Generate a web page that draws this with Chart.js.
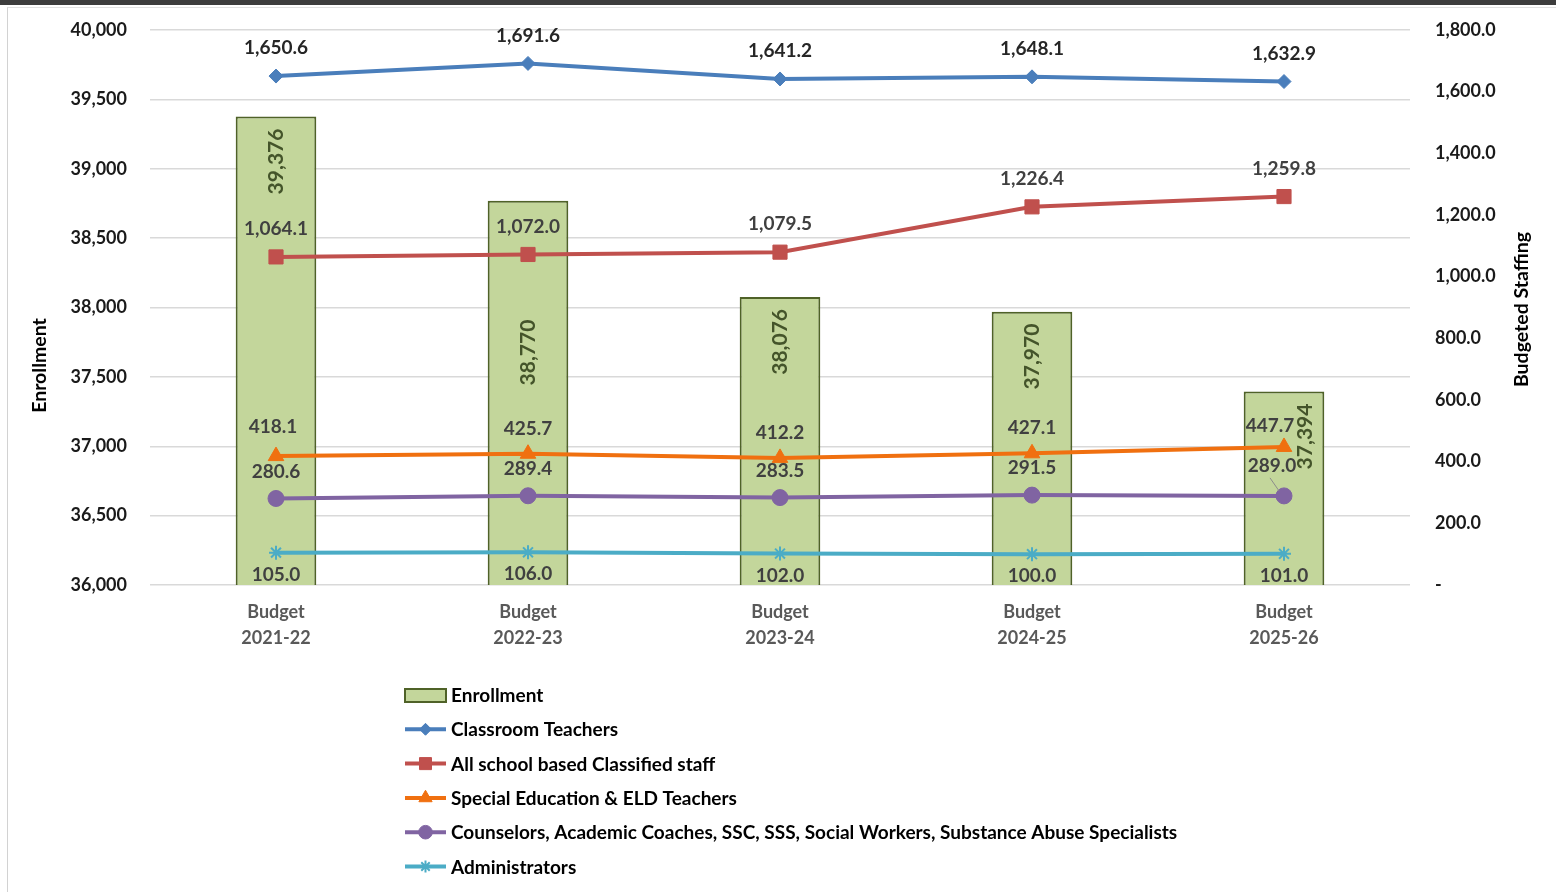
<!DOCTYPE html>
<html lang="en">
<head>
<meta charset="UTF-8">
<title>Enrollment and Budgeted Staffing</title>
<script src="https://cdn.jsdelivr.net/npm/chart.js"></script>
<style>
  html, body { margin: 0; padding: 0; background: #ffffff; }
  body { width: 1556px; height: 892px; overflow: hidden; position: relative; font-family: 'Lato', sans-serif; }
  /* dark strip on top and the light chart frame, like the screenshot */
  .topbar { position: absolute; left: 0; top: 0; width: 1556px; height: 5px; background: #3d3d3d; }
  .frame { position: absolute; left: 7px; top: 7px; width: 1600px; height: 950px; border-left: 1px solid #d2d2d2; border-top: 1px solid #e2e2e2; }
  .chart-box { position: absolute; left: 0; top: 0; width: 1556px; height: 892px; }
</style>
</head>
<body>
<div class="topbar"></div>
<div class="frame"></div>
<div class="chart-box"><canvas id="staffChart" width="1556" height="892"></canvas></div>

<script>
// --- data ---
const categories = [['Budget', '2021-22'], ['Budget', '2022-23'], ['Budget', '2023-24'], ['Budget', '2024-25'], ['Budget', '2025-26']];
const enrollment = [39376, 38770, 38076, 37970, 37394];
const classroomTeachers = [1650.6, 1691.6, 1641.2, 1648.1, 1632.9];
const classifiedStaff = [1064.1, 1072.0, 1079.5, 1226.4, 1259.8];
const spedEldTeachers = [418.1, 425.7, 412.2, 427.1, 447.7];
const counselors = [280.6, 289.4, 283.5, 291.5, 289.0];
const administrators = [105.0, 106.0, 102.0, 100.0, 101.0];

const enrollmentRange = [36000, 40000, 500];   // min, max, step (left axis)
const staffingRange = [0, 1800, 200];          // min, max, step (right axis)

const FONT = 'Lato, "Open Sans", sans-serif';
const fmtInt = v => v.toLocaleString('en-US');
const fmt1 = v => v.toLocaleString('en-US', { minimumFractionDigits: 1, maximumFractionDigits: 1 });

// value labels (Excel style data labels)
const valueLabels = {
  id: 'valueLabels',
  afterDatasetsDraw(chart) {
    const ctx = chart.ctx;
    chart.data.datasets.forEach((ds, i) => {
      const lab = ds.valueLabel;
      if (!lab) return;
      const meta = chart.getDatasetMeta(i);
      meta.data.forEach((el, j) => {
        const shift = (lab.shift && lab.shift[j]) || [0, 0];
        const txt = lab.format(ds.data[j]);
        ctx.save();
        ctx.font = lab.font;
        ctx.fillStyle = lab.color;
        if (ds.type === 'bar') {
          ctx.translate(el.x + shift[0], el.y + 12 + shift[1]);
          ctx.rotate(-Math.PI / 2);
          ctx.textAlign = 'right';
          ctx.textBaseline = 'middle';
          ctx.fillText(txt, 0, 0);
        } else {
          const lx = el.x + shift[0], ly = el.y + lab.dy + shift[1];
          ctx.textAlign = 'center';
          ctx.textBaseline = 'middle';
          ctx.fillText(txt, lx, ly);
          if (lab.leader && lab.leader.includes(j)) {
            ctx.strokeStyle = '#8c8c8c';
            ctx.lineWidth = 1;
            ctx.beginPath();
            ctx.moveTo(lx - 2, ly + 12);
            ctx.lineTo(el.x - 5, el.y - 5);
            ctx.stroke();
          }
        }
        ctx.restore();
      });
    });
  }
};

// axis titles (both read bottom to top) + one column legend under the plot
const extras = {
  id: 'extras',
  afterDraw(chart, args, opts) {
    const ctx = chart.ctx;
    const area = chart.chartArea;
    ctx.save();
    ctx.font = 'bold 19.5px ' + FONT;
    ctx.fillStyle = '#000000';
    ctx.textAlign = 'center';
    ctx.textBaseline = 'middle';
    ctx.translate(area.left - 110, (area.top + area.bottom) / 2 + 58);
    ctx.rotate(-Math.PI / 2);
    ctx.fillText('Enrollment', 0, 0);
    ctx.restore();

    ctx.save();
    ctx.font = 'bold 19.5px ' + FONT;
    ctx.fillStyle = '#000000';
    ctx.textAlign = 'center';
    ctx.textBaseline = 'middle';
    ctx.translate(area.right + 112, (area.top + area.bottom) / 2 + 2);
    ctx.rotate(-Math.PI / 2);
    ctx.fillText('Budgeted Staffing', 0, 0);
    ctx.restore();

    // legend
    const left = opts.left, w = 41;
    chart.data.datasets.forEach((ds, i) => {
      const y = opts.top + i * opts.rowGap;
      ctx.save();
      if (ds.type === 'bar') {
        ctx.fillStyle = ds.backgroundColor;
        ctx.strokeStyle = ds.borderColor;
        ctx.lineWidth = 2;
        ctx.fillRect(left, y - 6, w, 13);
        ctx.strokeRect(left, y - 6, w, 13);
      } else {
        ctx.strokeStyle = ds.borderColor;
        ctx.lineWidth = 4;
        ctx.beginPath();
        ctx.moveTo(left, y);
        ctx.lineTo(left + w, y);
        ctx.stroke();
        ctx.fillStyle = ds.borderColor;
        ctx.lineWidth = ds.pointBorderWidth;
        Chart.helpers.drawPoint(ctx, { pointStyle: ds.pointStyle, radius: ds.pointRadius * 0.85, rotation: 0, borderWidth: ds.pointBorderWidth }, left + w / 2, y);
      }
      ctx.restore();
      ctx.save();
      ctx.font = 'bold 19px ' + FONT;
      ctx.fillStyle = '#000000';
      ctx.textAlign = 'left';
      ctx.textBaseline = 'middle';
      ctx.fillText(ds.label, left + w + 5, y + 1);
      ctx.restore();
    });
  }
};

const lineLabelFont = 'bold 19px ' + FONT;
const tickFont = { family: FONT, size: 18, weight: 'bold' };

function lineSet(label, data, color, pointStyle, radius, dy, extra) {
  return Object.assign({
    type: 'line',
    label: label,
    data: data,
    yAxisID: 'y1',
    borderColor: color,
    backgroundColor: color,
    pointBackgroundColor: color,
    pointBorderColor: color,
    borderWidth: 4,
    pointStyle: pointStyle,
    pointRadius: radius,
    pointBorderWidth: 1,
    tension: 0,
    order: 1,
    valueLabel: { format: fmt1, font: lineLabelFont, color: '#404040', dy: dy }
  }, extra || {});
}

// keep the plot edges fixed: no extra room for half tick labels
function fixWidth(w) {
  return s => { s.width = w; s.paddingTop = 0; s.paddingBottom = 0; };
}

const ctx = document.getElementById('staffChart').getContext('2d');
new Chart(ctx, {
  data: {
    labels: categories,
    datasets: [
      {
        type: 'bar',
        label: 'Enrollment',
        data: enrollment,
        yAxisID: 'y',
        backgroundColor: '#c3d69b',
        borderColor: '#4f6228',
        borderWidth: 2,
        borderSkipped: false,
        barPercentage: 0.32,
        categoryPercentage: 1.0,
        order: 10,
        valueLabel: { format: fmtInt, font: 'bold 21px ' + FONT, color: '#44542a', shift: { 1: [0, 107], 4: [21, 0] } }
      },
      lineSet('Classroom Teachers', classroomTeachers, '#4a7ebb', 'rectRot', 7, -28,
        { valueLabel: { format: fmt1, font: lineLabelFont, color: '#262626', dy: -28 } }),
      lineSet('All school based Classified staff', classifiedStaff, '#c0504d', 'rect', 10, -28),
      lineSet('Special Education & ELD Teachers', spedEldTeachers, '#f07010', 'triangle', 9, -26,
        { valueLabel: { format: fmt1, font: lineLabelFont, color: '#404040', dy: -25, shift: { 0: [-3, -4], 4: [-14, 4] } } }),
      lineSet('Counselors, Academic Coaches, SSC, SSS, Social Workers, Substance Abuse Specialists', counselors, '#8064a2', 'circle', 8, -27,
        { valueLabel: { format: fmt1, font: lineLabelFont, color: '#404040', dy: -27, shift: { 4: [-12, -3] }, leader: [4] } }),
      lineSet('Administrators', administrators, '#4bacc6', 'star', 7, 22, { pointBorderWidth: 2 })
    ]
  },
  options: {
    responsive: false,
    animation: false,
    layout: { padding: { left: 22, right: 20, top: 30, bottom: 232 } },
    plugins: {
      legend: { display: false },
      tooltip: { enabled: false },
      extras: { left: 405, top: 695, rowGap: 34.3 }
    },
    scales: {
      x: {
        grid: { display: false },
        border: { display: false },
        ticks: { color: '#595959', font: { family: FONT, size: 18, weight: 'bold', lineHeight: 1.4 }, padding: 7, maxRotation: 0 },
        afterFit(s) { s.height = 75; }
      },
      y: {
        position: 'left',
        min: enrollmentRange[0],
        max: enrollmentRange[1],
        ticks: { stepSize: enrollmentRange[2], padding: 23, color: '#1a1a1a', font: tickFont, callback: v => fmtInt(v) },
        grid: { color: '#d9d9d9', lineWidth: 1.5, drawTicks: false },
        border: { display: false },
        afterFit: fixWidth(128)
      },
      y1: {
        position: 'right',
        min: staffingRange[0],
        max: staffingRange[1],
        ticks: { stepSize: staffingRange[2], padding: 25, color: '#1a1a1a', font: tickFont, callback: v => v === 0 ? '-' : fmt1(v) },
        grid: { display: false, drawTicks: false },
        border: { display: false },
        afterFit: fixWidth(126)
      }
    }
  },
  plugins: [valueLabels, extras]
});
</script>
</body>
</html>
